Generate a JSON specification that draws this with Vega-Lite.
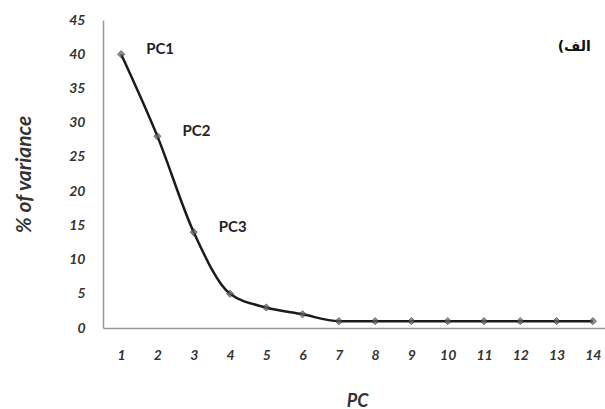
{
  "$schema": "https://vega.github.io/schema/vega-lite/v6.json",
  "autosize": {"type": "none"},
  "width": 508,
  "height": 308,
  "padding": {"left": 103, "top": 20, "right": 0, "bottom": 81},
  "background": "white",
  "config": {
    "view": {"stroke": null},
    "font": "Lato"
  },
  "data": {
    "values": [
      {"pc": "1", "v": 40, "label": "PC1"},
      {"pc": "2", "v": 28, "label": "PC2"},
      {"pc": "3", "v": 14, "label": "PC3"},
      {"pc": "4", "v": 5, "label": ""},
      {"pc": "5", "v": 3, "label": ""},
      {"pc": "6", "v": 2, "label": ""},
      {"pc": "7", "v": 1, "label": ""},
      {"pc": "8", "v": 1, "label": ""},
      {"pc": "9", "v": 1, "label": ""},
      {"pc": "10", "v": 1, "label": ""},
      {"pc": "11", "v": 1, "label": ""},
      {"pc": "12", "v": 1, "label": ""},
      {"pc": "13", "v": 1, "label": ""},
      {"pc": "14", "v": 1, "label": ""}
    ]
  },
  "encoding": {
    "x": {
      "field": "pc", "type": "ordinal", "sort": null,
      "scale": {"type": "point", "padding": 0.5},
      "axis": {
        "title": "PC", "titleFont": "Lato", "titleFontSize": 18, "titleFontWeight": "bold", "titleFontStyle": "italic",
        "titleColor": "#333", "titlePadding": 30,
        "labelAngle": 0, "labelFontSize": 14, "labelFontWeight": "bold", "labelFontStyle": "italic", "labelColor": "#333",
        "labelPadding": 20, "ticks": false, "grid": false,
        "domainColor": "#999", "domainWidth": 1.5
      }
    },
    "y": {
      "field": "v", "type": "quantitative",
      "scale": {"domain": [0, 45]},
      "axis": {
        "title": "% of variance", "titleFont": "Lato", "titleFontSize": 21, "titleFontWeight": "bold", "titleFontStyle": "italic",
        "titleColor": "#333", "titlePadding": 34,
        "values": [0, 5, 10, 15, 20, 25, 30, 35, 40, 45],
        "labelFontSize": 14, "labelFontWeight": "bold", "labelFontStyle": "italic", "labelColor": "#333",
        "labelPadding": 18, "ticks": false, "grid": false,
        "domainColor": "#999", "domainWidth": 1.5
      }
    }
  },
  "layer": [
    {
      "mark": {"type": "line", "color": "#1a1a1a", "strokeWidth": 2.5, "interpolate": "monotone"}
    },
    {
      "mark": {"type": "point", "shape": "diamond", "size": 50, "filled": true, "color": "#666", "stroke": "#222", "strokeWidth": 1}
    },
    {
      "mark": {"type": "text", "align": "left", "baseline": "middle", "dx": 25, "dy": -5, "fontSize": 15, "fontWeight": "bold", "color": "#222", "font": "Lato"},
      "encoding": {"text": {"field": "label"}}
    },
    {
      "data": {"values": [{"pc": "14", "v": 41, "t": "(الف"}]},
      "mark": {"type": "text", "align": "right", "baseline": "middle", "fontSize": 14, "fontWeight": "bold", "color": "#111", "font": "DejaVu Sans", "dx": -2},
      "encoding": {"text": {"field": "t"}}
    }
  ]
}
